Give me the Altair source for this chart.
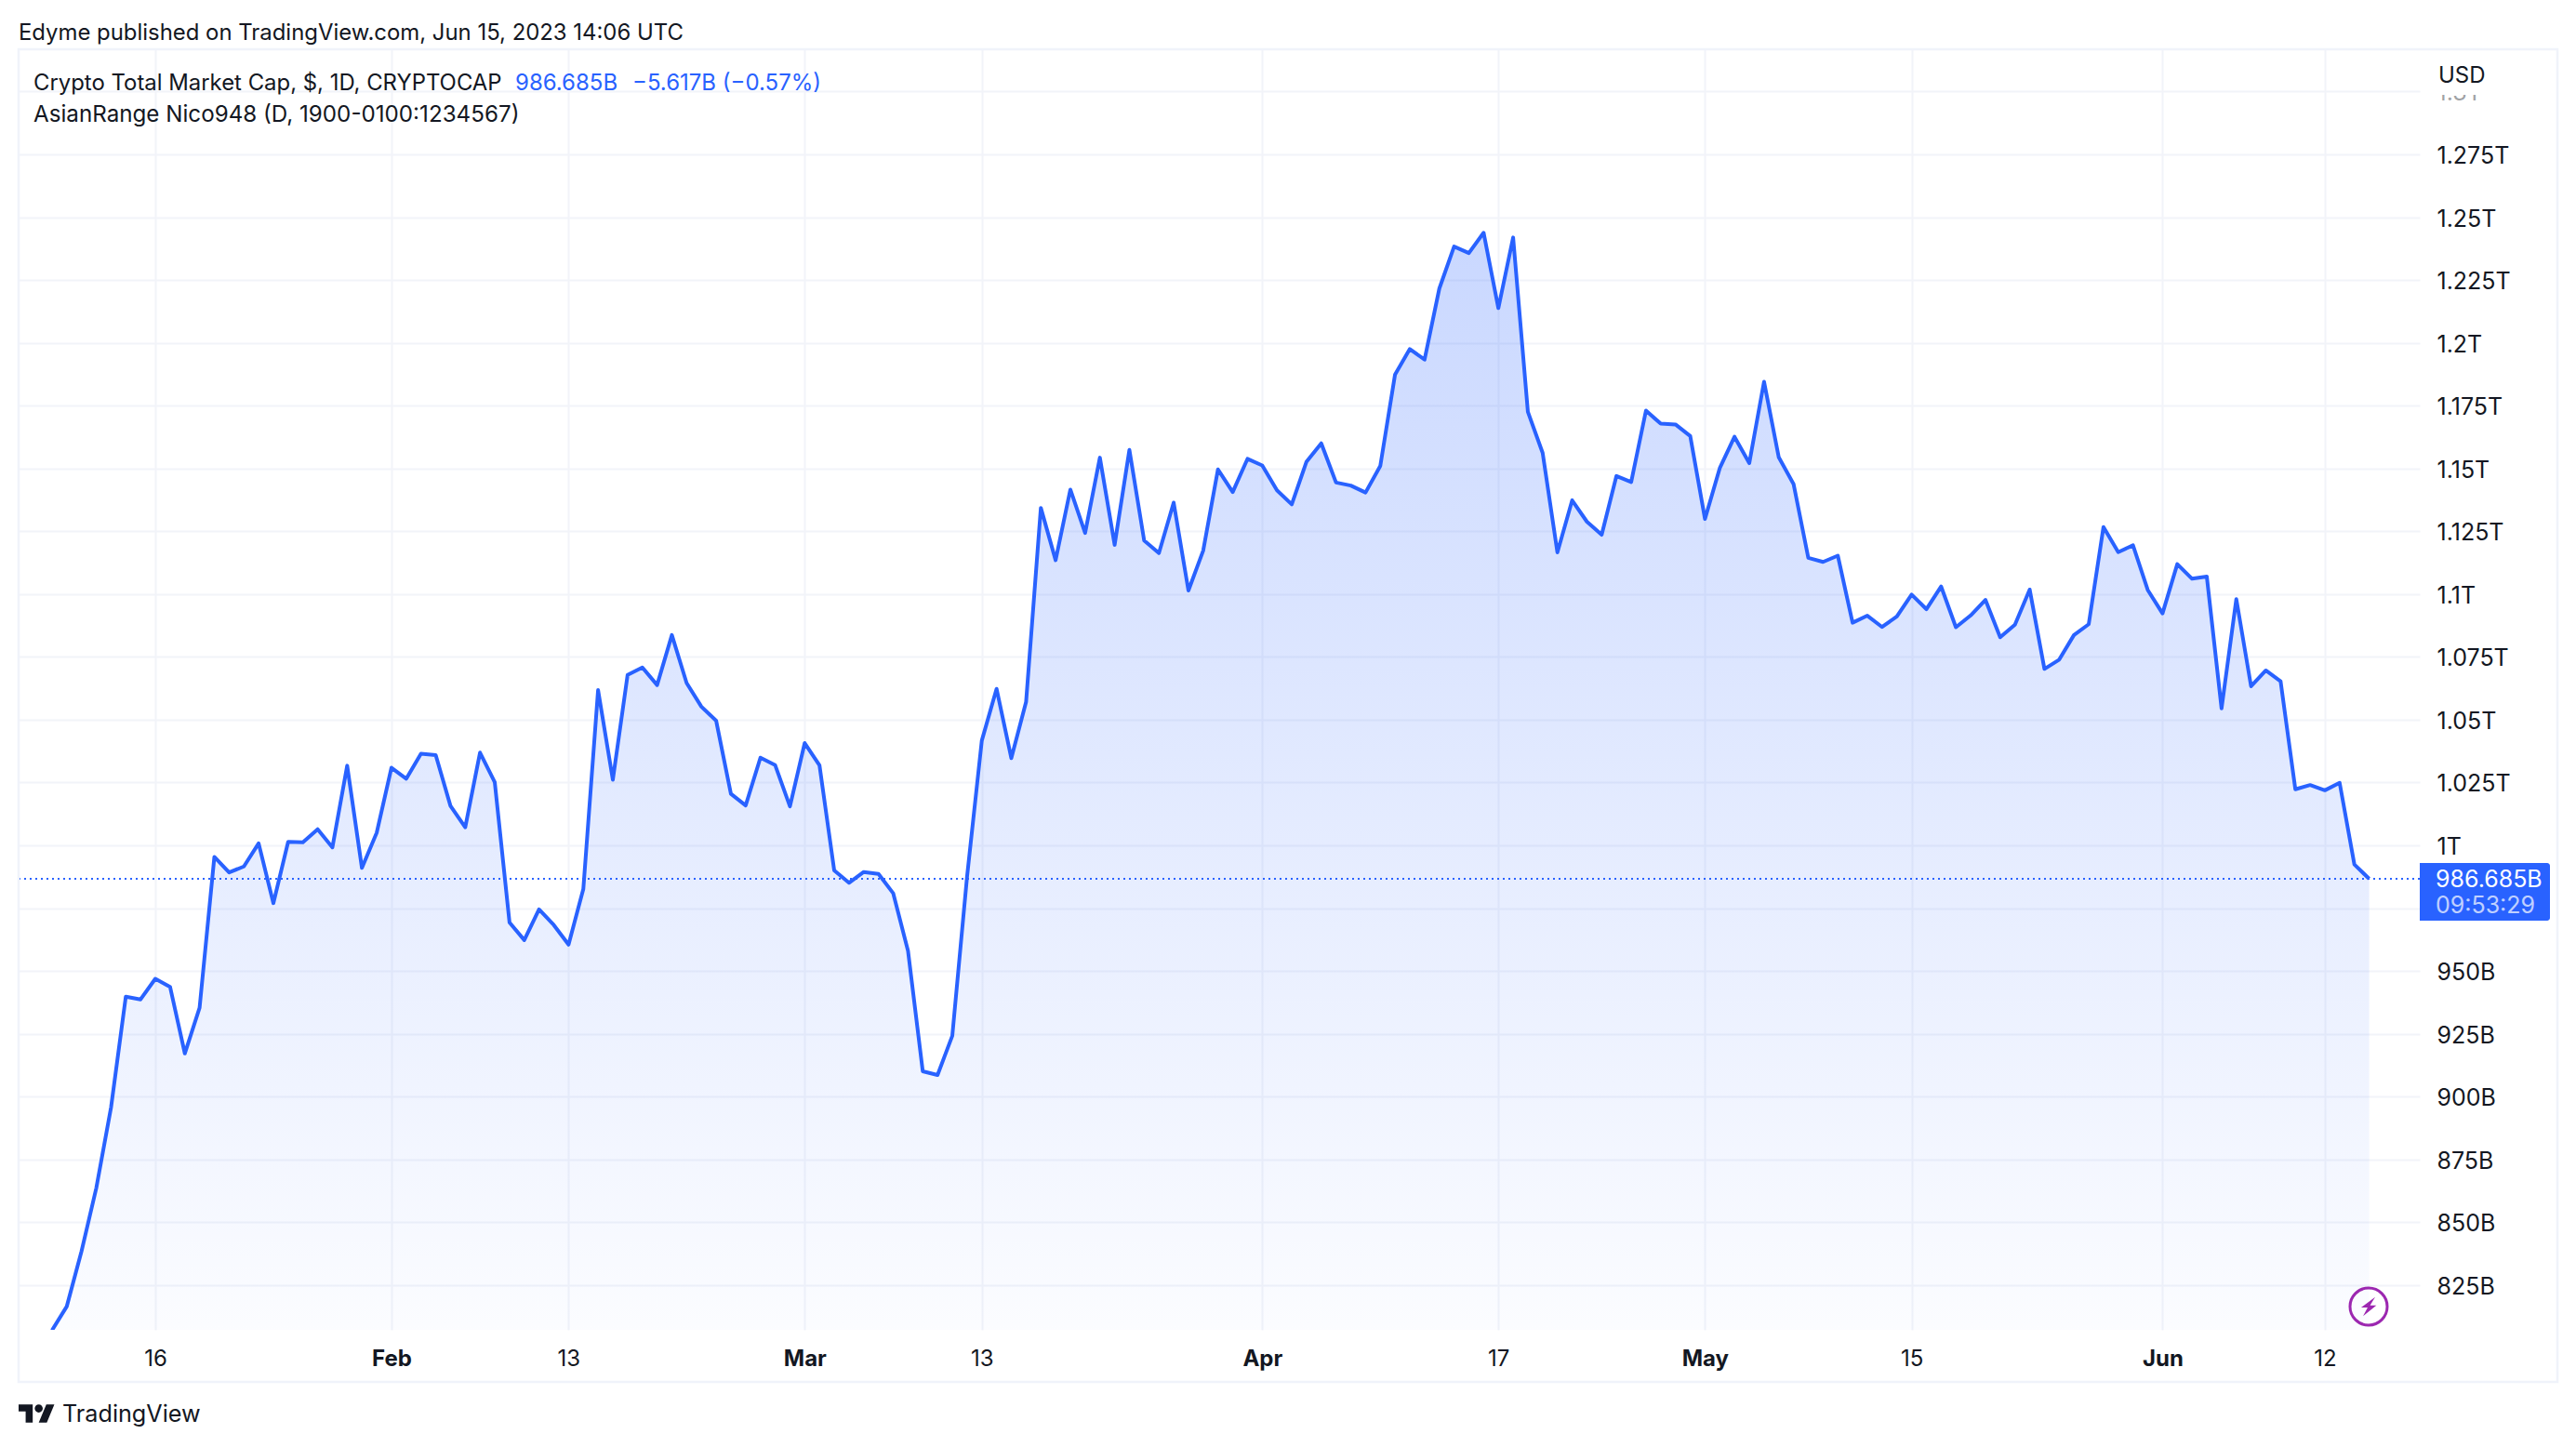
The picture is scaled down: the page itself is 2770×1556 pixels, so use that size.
import altair as alt
import pandas as pd

FONT = "Inter"
INK = "#131722"
BLUE = "#2962FF"
GRID = "#f2f4f9"
FRAME = "#f0f3fa"

START_DAY = "2023-01-09"
market_cap_b = [
    807.0, 816.5, 838.5, 863.6, 895.7, 939.8, 938.7, 946.9, 943.7, 917.2, 935.4, 995.4, 989.2, 991.6, 1000.8,
    977.0, 1001.4, 1001.2, 1006.4, 999.2, 1031.7, 991.0, 1005.0,
    1030.9, 1026.5, 1036.5, 1035.9, 1015.7, 1007.2, 1036.9, 1025.1, 969.3, 962.3, 974.5, 968.3, 960.5, 982.6,
    1061.8, 1026.1, 1067.8, 1070.8, 1063.8, 1083.7, 1064.6, 1055.2, 1049.6, 1020.5, 1015.9, 1034.9, 1031.9, 1015.5,
    1040.7, 1031.9, 990.0, 985.1, 989.4, 988.6, 980.9, 958.0, 910.1, 908.6, 924.2, 987.5, 1041.7, 1062.3, 1034.7,
    1057.1, 1134.3, 1113.5, 1141.6, 1124.3, 1154.3, 1119.6, 1157.4, 1121.3, 1116.3, 1136.4, 1101.4, 1117.3, 1149.6,
    1140.6, 1153.8,
    1151.2, 1141.3, 1135.7, 1152.7, 1160.0, 1144.4, 1143.2, 1140.4, 1151.0, 1187.4, 1197.5, 1193.3, 1221.6, 1238.3,
    1235.7, 1243.8, 1213.8, 1241.9, 1172.5, 1156.2, 1116.6, 1137.3, 1128.8, 1123.6, 1147.0, 1144.6, 1173.0, 1167.8,
    1167.5, 1162.9,
    1129.9, 1150.1, 1162.6, 1152.1, 1184.5, 1154.4, 1143.8, 1114.4, 1112.8, 1115.3, 1088.6, 1091.4, 1086.9, 1091.1,
    1099.8, 1094.0, 1103.0, 1086.8, 1091.5, 1097.7, 1082.8, 1087.8, 1101.8, 1070.2, 1073.9, 1083.7, 1088.0, 1126.7,
    1116.7, 1119.4, 1101.6,
    1092.3, 1111.9, 1106.1, 1107.0, 1054.5, 1098.0, 1063.3, 1069.6, 1065.3, 1022.3, 1024.0, 1021.9, 1024.9, 992.4,
    986.685,
]
x_ticks = ["2023-01-16", "2023-02-01", "2023-02-13", "2023-03-01", "2023-03-13", "2023-04-01",
           "2023-04-17", "2023-05-01", "2023-05-15", "2023-06-01", "2023-06-12"]
y_ticks = list(range(825, 1301, 25))
LAST = 986.685

def ms(s):
    return int(pd.Timestamp(s, tz="UTC").value // 10**6)

dates = pd.date_range(START_DAY, periods=len(market_cap_b), freq="D")
df = pd.DataFrame({"date": dates.strftime("%Y-%m-%dT00:00:00Z"), "cap": market_cap_b})

# plot rectangle in page pixels
PX, PY, PR, PB = 20, 53, 2602, 1430
W, H = PR - PX, PB - PY

xs = alt.Scale(type="utc", domain=[ms("2023-01-06T17:41:00"), ms("2023-06-18T10:19:00")])
ys = alt.Scale(domain=[807.2, 1316.8], zero=False, nice=False)
one = alt.Data(values=[{"a": 1}])

x_enc = alt.X("date:T", scale=xs, title=None, axis=alt.Axis(
    values=[ms(t) for t in x_ticks], grid=True, gridColor=GRID, gridWidth=2, domain=False, ticks=False,
    labelFont=FONT, labelFontSize=24, labelColor=INK, labelPadding=19, labelBaseline="top", labelAngle=0,
    labelAlign="center", labelOverlap=False, labelFlush=False,
    labelExpr="utcdate(datum.value)==1 ? utcFormat(datum.value,'%b') : utcFormat(datum.value,'%-d')",
    labelFontWeight=alt.condition("utcdate(datum.value)==1", alt.value("bold"), alt.value("normal"))))
y_enc = alt.Y("cap:Q", scale=ys, title=None, axis=alt.Axis(
    orient="right", values=y_ticks, grid=True, gridColor=GRID, gridWidth=2, domain=False, ticks=False,
    labelFont=FONT, labelFontSize=25, labelColor=INK, labelPadding=18, labelAlign="left", labelOverlap=False,
    labelFlush=False, labelBound=False, labelOffset=1.5,
    labelExpr="datum.value>=1000 ? (datum.value/1000)+'T' : datum.value+'B'"))

base = alt.Chart(df)
# Vega's SVG gradient spans the mark's full width, so the mark's height covers only the first part of the stops
area = base.mark_area(clip=True, color=alt.Gradient(
    gradient="linear", x1=0, x2=0, y1=0, y2=1,
    stops=[alt.GradientStop(color="rgba(41,98,255,0.25)", offset=0),
           alt.GradientStop(color="rgba(41,98,255,0.01)", offset=0.36)])).encode(x=x_enc, y=y_enc, y2=alt.value(H))
line = base.mark_line(clip=True, color=BLUE, strokeWidth=4, strokeJoin="round").encode(x=x_enc, y=y_enc)
last_rule = alt.Chart(alt.Data(values=[{"v": LAST}])).mark_rule(color=BLUE, strokeWidth=2, strokeDash=[2, 4]).encode(
    y=alt.Y("v:Q", scale=ys), x=alt.value(0), x2=alt.value(W))

def px(x): return alt.value(x - PX)
def py(y): return alt.value(y - PY)

def note(text, x, y, size=24, color=INK, **kw):
    return alt.Chart(one).mark_text(align=kw.pop("align", "left"), baseline="middle", font=FONT, fontSize=size,
                                    color=color, **kw).encode(x=px(x), y=py(y), text=alt.value(text))

def box(x, x2, y, y2, **kw):
    return alt.Chart(one).mark_rect(**kw).encode(x=px(x), x2=px(x2), y=py(y), y2=py(y2))

frame = box(20, 2750, 53, 1486, fill=None, stroke=FRAME, strokeWidth=2.5)
usd_cover = box(2604, 2748, 55, 102, fill="#ffffff")
usd_fade = box(2604, 2748, 102, 108, fill="#ffffff", opacity=0.6)
tag = box(2602, 2742, 928, 990, fill=BLUE, cornerRadiusTopRight=3, cornerRadiusBottomRight=3)

logo_path = ("M-0.222,0.5 L-0.611,0.5 L-0.611,-0.111 L-1,-0.111 L-1,-0.5 L-0.222,-0.5 Z "
             "M0.556,0.5 L0.111,0.5 L0.528,-0.5 L0.972,-0.5 Z "
             "M-0.111,-0.278 a0.222,0.222 0 1,0 0.444,0 a0.222,0.222 0 1,0 -0.444,0 Z")
logo = alt.Chart(one).mark_point(shape=logo_path, filled=True, fill=INK, opacity=1, size=1521).encode(
    x=px(39.5), y=py(1520))
ring = alt.Chart(one).mark_point(shape="circle", filled=False, stroke="#9c27b0", strokeWidth=3, opacity=1,
                                 size=1600).encode(x=px(2547), y=py(1405))
bolt_path = "M0.54,-0.79 L-0.62,0.08 L-0.08,0.08 L-0.46,0.79 L0.64,-0.1 L0.12,-0.1 Z"
bolt = alt.Chart(one).mark_point(shape=bolt_path, filled=True, fill="#9c27b0", opacity=1,
                                 size=676).encode(x=px(2547), y=py(1405))

chart = alt.layer(
    area, line, last_rule, frame, usd_cover, usd_fade, tag,
    note("USD", 2622, 82),
    note("986.685B", 2619, 946, size=25, color="#ffffff"),
    note("09:53:29", 2619, 974, size=25, color="#ffffff", opacity=0.7),
    note("Edyme published on TradingView.com, Jun 15, 2023 14:06 UTC", 20, 36, size=23.9),
    note("Crypto Total Market Cap, $, 1D, CRYPTOCAP", 36, 90, size=23.9),
    note("986.685B", 554, 90, color=BLUE),
    note("\u22125.617B (\u22120.57%)", 680, 90, color=BLUE),
    note("AsianRange Nico948 (D, 1900-0100:1234567)", 36, 124, size=24.2),
    note("TradingView", 67, 1521, size=25.2),
    logo, ring, bolt,
).resolve_scale(x="shared", y="shared").properties(
    width=W, height=H,
    autosize=alt.AutoSizeParams(type="none"),
    padding={"left": PX - 8, "top": PY - 8, "right": 150, "bottom": 110},
).configure_view(stroke=None)

chart.save("out.html", embed_options={"renderer": "svg", "actions": False})
